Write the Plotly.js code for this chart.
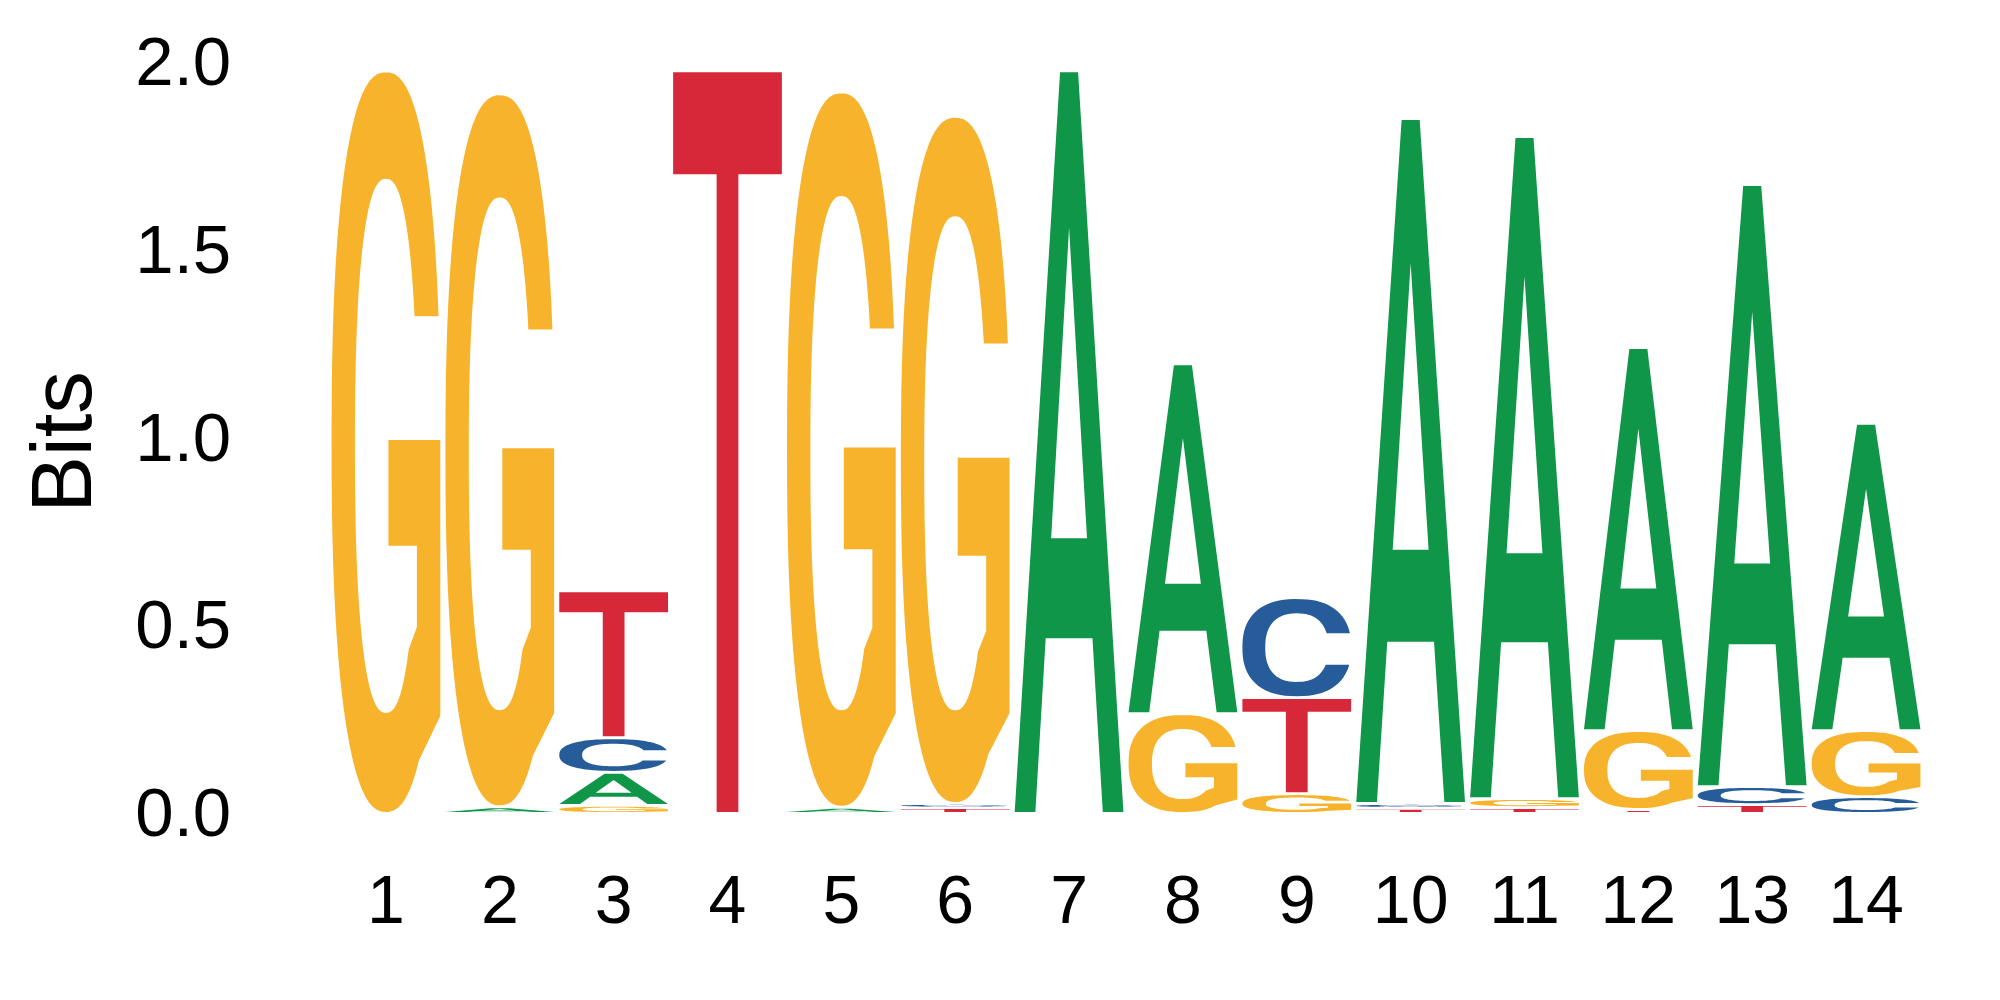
<!DOCTYPE html>
<html>
<head>
<meta charset="utf-8">
<script src="https://cdn.plot.ly/plotly-3.0.1.min.js"></script>
<style>
  body { margin: 0; background: #fff; }
  #logo { width: 2000px; height: 1000px; }
</style>
</head>
<body>
<div id="logo"></div>
<script>
// motif positions and the information (bits) carried by each base
const positions = [1, 2, 3, 4, 5, 6, 7, 8, 9, 10, 11, 12, 13, 14];
const bitsA = [0, 0.010, 0.088, 0, 0.009, 0, 1.970, 0.932, 0, 1.824, 1.763, 1.020, 1.603, 0.818];
const bitsC = [0, 0, 0.092, 0, 0, 0.011, 0, 0, 0.266, 0.013, 0, 0, 0.048, 0.037];
const bitsG = [1.970, 1.899, 0.014, 0, 1.905, 1.830, 0, 0.258, 0.045, 0, 0.024, 0.210, 0, 0.176];
const bitsT = [0, 0, 0.391, 1.970, 0, 0.008, 0, 0, 0.256, 0.006, 0.008, 0.003, 0.016, 0];

const yTickVals = [0, 0.5, 1, 1.5, 2];
const yTickText = ['0.0', '0.5', '1.0', '1.5', '2.0'];

const baseColors = { A: '#109648', C: '#255C99', G: '#F7B32B', T: '#D62839' };
const letterWidth = 0.955;
const stackGap = 0.0075;   // small white gap between stacked letters
const SQ = 2.4;            // superellipse exponent for the round letters

function angleAt(v) {
  // angle on the right half of the superellipse where (y - cy) / ry == v
  const s = Math.sign(v) * Math.pow(Math.abs(v), SQ / 2);
  return Math.asin(Math.max(-1, Math.min(1, s)));
}

function arc(cx, cy, rx, ry, t0, t1, steps = 72) {
  const pts = [];
  for (let i = 0; i <= steps; i++) {
    const t = t0 + (t1 - t0) * i / steps;
    const c = Math.cos(t), s = Math.sin(t);
    pts.push([cx + rx * Math.sign(c) * Math.pow(Math.abs(c), 2 / SQ),
              cy + ry * Math.sign(s) * Math.pow(Math.abs(s), 2 / SQ)]);
  }
  return pts;
}

// letter outlines in a unit box, each a list of rings
const glyphs = {
  A: [
    [[0, 0], [0.19, 0], [0.285, 0.235], [0.715, 0.235], [0.81, 0], [1, 0], [0.583, 1], [0.417, 1]],
    [[0.335, 0.37], [0.665, 0.37], [0.5, 0.79]]
  ],
  T: [
    [[0, 1], [1, 1], [1, 0.862], [0.6, 0.862], [0.6, 0], [0.4, 0], [0.4, 0.862], [0, 0.862]]
  ],
  C: (() => {
    const yUp = 0.648, yLo = 0.324;
    const outer = arc(0.5, 0.5, 0.5, 0.5, angleAt((yUp - 0.5) / 0.5), 2 * Math.PI + angleAt((yLo - 0.5) / 0.5));
    const inner = arc(0.5, 0.5, 0.29, 0.353, 2 * Math.PI + angleAt((yLo - 0.5) / 0.353), angleAt((yUp - 0.5) / 0.353));
    return [outer.concat(inner)];
  })(),
  G: (() => {
    const yUp = 0.67;
    const outer = arc(0.5, 0.5, 0.5, 0.5, angleAt((yUp - 0.5) / 0.5), 2 * Math.PI + angleAt(-0.86));
    const bar = [[1, 0.13], [1, 0.503], [0.523, 0.503], [0.523, 0.36], [0.785, 0.36], [0.785, 0.25]];
    const inner = arc(0.5, 0.495, 0.285, 0.361, 2 * Math.PI + angleAt((0.22 - 0.495) / 0.361), angleAt((yUp - 0.495) / 0.361));
    return [outer.concat(bar, inner)];
  })()
};

function glyphPath(rings, x0, x1, y0, y1) {
  return rings.map(ring =>
    'M' + ring.map(([u, v]) => `${(x0 + u * (x1 - x0)).toFixed(5)},${(y0 + v * (y1 - y0)).toFixed(5)}`).join('L') + 'Z'
  ).join(' ');
}

const bitsByBase = { A: bitsA, C: bitsC, G: bitsG, T: bitsT };
const shapes = [];
const totals = [];

positions.forEach((pos, i) => {
  // smallest letter at the bottom, largest on top
  const stack = Object.keys(bitsByBase)
    .map(b => ({ base: b, h: bitsByBase[b][i] }))
    .filter(d => d.h > 0)
    .sort((a, b) => a.h - b.h);
  let y = 0;
  stack.forEach(d => {
    const bottom = y > 0 ? y + Math.min(stackGap, d.h * 0.6) : y;
    shapes.push({
      type: 'path',
      xref: 'x', yref: 'y',
      path: glyphPath(glyphs[d.base], pos - letterWidth / 2, pos + letterWidth / 2, bottom, y + d.h),
      fillcolor: baseColors[d.base],
      fillrule: 'evenodd',
      line: { width: 0 },
      layer: 'above'
    });
    y += d.h;
  });
  totals.push(y);
});

const hoverTrace = {
  x: positions,
  y: totals,
  type: 'scatter',
  mode: 'markers',
  marker: { opacity: 0 },
  hovertemplate: 'Position %{x}<br>%{y:.2f} bits<extra></extra>'
};

const layout = {
  width: 2000,
  height: 1000,
  margin: { l: 329, r: 77, t: 24, b: 140 },
  paper_bgcolor: '#ffffff',
  plot_bgcolor: '#ffffff',
  showlegend: false,
  font: { family: 'Liberation Sans, Arial, sans-serif', color: '#000000' },
  xaxis: {
    range: [0.5, 14.5],
    tickvals: positions,
    ticktext: positions.map(String),
    showgrid: false, zeroline: false, showline: false,
    ticks: '', ticklabelstandoff: -6,
    tickfont: { size: 68 }
  },
  yaxis: {
    range: [-0.1278, 2.0985],
    tickvals: yTickVals,
    ticktext: yTickText,
    showgrid: false, zeroline: false, showline: false,
    ticks: 'outside', ticklen: 83, tickcolor: 'rgba(0,0,0,0)',
    tickfont: { size: 69 },
    title: { text: 'Bits', font: { size: 85 }, standoff: 15 }
  },
  shapes: shapes
};

Plotly.newPlot('logo', [hoverTrace], layout, { displayModeBar: false, staticPlot: true });
</script>
</body>
</html>
